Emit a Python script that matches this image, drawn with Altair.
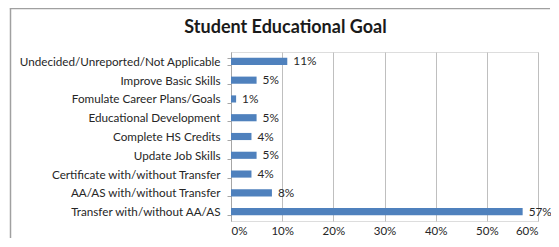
import altair as alt
import pandas as pd

categories = [
    "Undecided/Unreported/Not Applicable",
    "Improve Basic Skills",
    "Fomulate Career Plans/Goals",
    "Educational Development",
    "Complete HS Credits",
    "Update Job Skills",
    "Certificate with/without Transfer",
    "AA/AS with/without Transfer",
    "Transfer with/without AA/AS",
]
values = [0.11, 0.05, 0.01, 0.05, 0.04, 0.05, 0.04, 0.08, 0.57]
x_ticks = [0, 0.1, 0.2, 0.3, 0.4, 0.5, 0.6]

df = pd.DataFrame({"goal": categories, "share": values})

FONT = "Lato"
BLUE = "#4F81BD"

base = alt.Chart(df)

yenc = alt.Y(
    "goal:N",
    sort=categories,
    title=None,
    scale=alt.Scale(paddingInner=0.62, paddingOuter=0.31),
    axis=alt.Axis(
        domain=True, domainColor="#A6A6A6", ticks=True, tickColor="#A6A6A6",
        tickSize=4, tickBand="extent", labelFont=FONT, labelFontSize=11.7,
        labelColor="#262626", labelPadding=7, labelLimit=400, grid=False,
    ),
)
xenc = alt.X(
    "share:Q",
    title=None,
    scale=alt.Scale(domain=[0, 0.6], nice=False),
    axis=alt.Axis(
        values=x_ticks, format=".0%", domain=False, ticks=False,
        labelFont=FONT, labelFontSize=11.5, labelColor="#262626",
        labelPadding=4, grid=True, gridColor="#BFBFBF", gridWidth=1,
    ),
)

bars = base.mark_bar(color=BLUE).encode(x=xenc, y=yenc)
labels = base.mark_text(
    align="left", baseline="middle", dx=6, font=FONT, fontSize=11.8, color="#262626"
).encode(x="share:Q", y=alt.Y("goal:N", sort=categories), text=alt.Text("share:Q", format=".0%"))

one = pd.DataFrame({"a": [0]})
frame_left = alt.Chart(one).mark_rule(color="#A0A0A0", strokeWidth=1.5, clip=False).encode(
    x=alt.value(-220.5), y=alt.value(-43.5), y2=alt.value(186)
)
frame_top = alt.Chart(one).mark_rule(color="#A0A0A0", strokeWidth=1.5, clip=False).encode(
    x=alt.value(-221.25), x2=alt.value(319), y=alt.value(-43.5)
)

chart = (
    alt.layer(frame_left, frame_top, bars, labels)
    .properties(
        width=307,
        height=169,
        autosize=alt.AutoSizeParams(type="none"),
        padding={"left": 223, "top": 44, "right": 13, "bottom": 18},
        title=alt.TitleParams(
            "Student Educational Goal", font=FONT, fontSize=18, fontWeight="bold",
            color="#1a1a1a", anchor="middle", dx=-99, offset=-29,
        ),
    )
    .configure_view(stroke=None)
    .configure(background="white")
)

chart.save("out.html", embed_options={"renderer": "svg", "actions": False})
